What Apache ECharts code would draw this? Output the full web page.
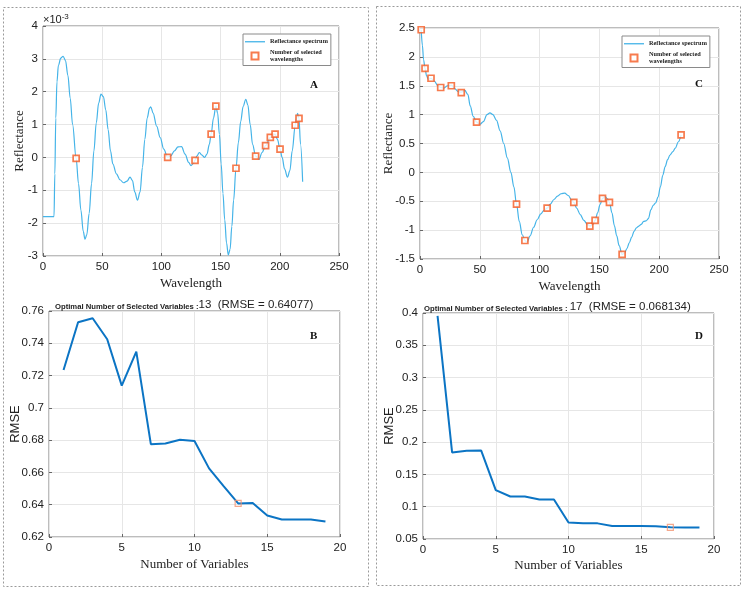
<!DOCTYPE html>
<html>
<head>
<meta charset="utf-8">
<script src="https://cdn.jsdelivr.net/npm/echarts@6/dist/echarts.min.js"></script>
<style>
html, body { margin: 0; padding: 0; background: #fff; }
#chart { width: 748px; height: 595px; }
</style>
</head>
<body>
<div id="chart"></div>
<script>
// panel A: reflectance spectrum (x10^-3) and selected wavelengths
var waveA = [0, 9.3, 10, 10.8, 11.8, 13, 15, 17, 19, 21, 23, 25, 28, 30, 32, 34, 35.5, 37, 39, 41, 43, 45, 47, 49, 51, 53, 55, 57, 59, 62, 65, 68, 71, 73.5, 75.5, 77.5, 79.8, 82, 84, 86, 88, 90, 91, 93, 96, 99, 102, 105.3, 108, 111, 114, 117, 120, 123, 125, 127, 128.4, 130, 132, 134, 136.5, 138.5, 140.5, 142, 144, 146, 147.5, 149, 150.5, 152, 153.5, 155, 156.5, 158, 159.5, 161, 163, 165, 167, 169, 171.3, 173, 175, 177, 179.6, 182.5, 185, 188, 192, 196, 198, 200.2, 202, 204, 206.5, 208.5, 210.5, 213, 215, 216.2, 217.5, 219.3];
var reflA = [-1.8, -1.8, -0.5, 1.2, 2.3, 2.8, 3.02, 3.08, 2.95, 2.5, 1.8, 1.0, -0.03, -0.8, -1.6, -2.25, -2.49, -2.35, -1.7, -0.8, 0.2, 1.05, 1.65, 1.93, 1.85, 1.45, 0.85, 0.2, -0.2, -0.5, -0.68, -0.77, -0.72, -0.6, -0.7, -1.05, -1.3, -1.05, -0.3, 0.55, 1.2, 1.5, 1.54, 1.35, 0.95, 0.6, 0.25, 0.0, 0.05, 0.2, 0.32, 0.33, 0.1, -0.15, -0.25, -0.18, -0.09, 0.05, 0.15, 0.08, 0.0, 0.1, 0.4, 0.71, 1.2, 1.56, 1.35, 0.7, -0.2, -1.1, -1.9, -2.6, -2.97, -2.8, -2.1, -1.3, -0.33, 0.45, 1.1, 1.55, 1.77, 1.6, 1.0, 0.4, 0.04, -0.06, 0.15, 0.36, 0.61, 0.71, 0.55, 0.25, 0.0, -0.35, -0.6, -0.4, 0.2, 0.98, 1.34, 1.19, 0.4, -0.74];
var selWaveA = [28, 105.3, 128.4, 142, 146, 163, 179.6, 188, 192, 196, 200.2, 213, 216.2];
var selReflA = [-0.03, 0.0, -0.09, 0.71, 1.56, -0.33, 0.04, 0.36, 0.61, 0.71, 0.25, 0.98, 1.19];

// panel C: reflectance spectrum and selected wavelengths
var waveC = [1, 2, 3, 4.2, 5.5, 7, 9.2, 12, 15, 17.3, 20, 23, 26.2, 29, 32, 34.5, 37.5, 40, 42, 44.5, 47.3, 50, 53, 56, 58.5, 61, 64, 67, 70, 73, 76, 78.5, 80.7, 83, 85.5, 87.7, 89.5, 92, 95, 98, 101, 103.5, 106.3, 109, 112, 115, 118, 121, 124, 126.5, 128.6, 131, 134, 137, 140, 142, 144.5, 146.4, 148.5, 150.5, 152.6, 154.8, 156.8, 158.4, 160.5, 162.5, 164.5, 166.5, 169, 171, 173, 175, 177, 179, 181, 183, 185, 187, 189, 191, 193, 195, 197, 199, 201, 203, 205, 207, 209, 211.5, 213.5, 216, 218.3];
var reflC = [2.47, 2.2, 1.95, 1.8, 1.67, 1.61, 1.63, 1.58, 1.5, 1.47, 1.46, 1.5, 1.51, 1.45, 1.4, 1.39, 1.42, 1.35, 1.15, 0.97, 0.87, 0.83, 0.88, 1.0, 1.03, 1.0, 0.9, 0.72, 0.5, 0.25, 0.0, -0.25, -0.55, -0.85, -1.08, -1.18, -1.21, -1.1, -0.95, -0.82, -0.72, -0.66, -0.62, -0.55, -0.47, -0.41, -0.37, -0.36, -0.4, -0.47, -0.52, -0.62, -0.73, -0.83, -0.9, -0.93, -0.9, -0.83, -0.7, -0.56, -0.45, -0.42, -0.46, -0.52, -0.7, -0.92, -1.1, -1.27, -1.42, -1.4, -1.32, -1.22, -1.12, -1.02, -0.96, -0.93, -0.9, -0.85, -0.84, -0.8, -0.65, -0.57, -0.53, -0.43, -0.25, -0.05, 0.1, 0.22, 0.3, 0.36, 0.42, 0.53, 0.65];
var selWaveC = [1, 4.2, 9.2, 17.3, 26.2, 34.5, 47.3, 80.7, 87.7, 106.3, 128.6, 142, 146.4, 152.6, 158.4, 169, 218.3];
var selReflC = [2.47, 1.8, 1.63, 1.47, 1.5, 1.38, 0.87, -0.55, -1.18, -0.62, -0.52, -0.93, -0.83, -0.45, -0.52, -1.42, 0.65];

// panels B and D: RMSE against number of variables
var nVars = [1, 2, 3, 4, 5, 6, 7, 8, 9, 10, 11, 12, 13, 14, 15, 16, 17, 18, 19];
var rmseB = [0.7235, 0.753, 0.7555, 0.7425, 0.7138, 0.7348, 0.6775, 0.6779, 0.6802, 0.6795, 0.6625, 0.6515, 0.64077, 0.641, 0.6333, 0.6308, 0.6308, 0.6309, 0.6296];
var rmseD = [0.3954, 0.184, 0.1866, 0.187, 0.1258, 0.1158, 0.1158, 0.1113, 0.1113, 0.0755, 0.0743, 0.0742, 0.0703, 0.0702, 0.0701, 0.0698, 0.068134, 0.068, 0.068];
var bestB = [13, 0.64077];
var bestD = [17, 0.068134];

function pairs(xs, ys) {
  return xs.map(function (x, i) { return [x, ys[i]]; });
}

var sans = '"Liberation Sans", Arial, sans-serif';
var serif = '"Liberation Serif", "Times New Roman", serif';
var lineBlue = '#45b4e8';
var markOrange = '#f55a22';
var rmseBlue = '#0b74c4';

function xAx(idx, max, interval, name, gap) {
  return {
    type: 'value', gridIndex: idx, min: 0, max: max, interval: interval,
    name: name, nameLocation: 'middle', nameGap: gap, nameMoveOverlap: false,
    nameTextStyle: { fontFamily: serif, fontSize: 13, color: '#222' },
    axisLine: { show: false, onZero: false },
    axisTick: { inside: true, length: 3, lineStyle: { color: '#666' } },
    axisLabel: { fontFamily: sans, fontSize: 11.5, color: '#222', margin: 5 },
    splitLine: { lineStyle: { color: '#e6e6e6' } }
  };
}
function yAx(idx, min, max, interval, name, gap, font) {
  return {
    type: 'value', gridIndex: idx, min: min, max: max, interval: interval,
    name: name, nameLocation: 'middle', nameGap: gap, nameMoveOverlap: false,
    nameTextStyle: { fontFamily: font, fontSize: 13, color: '#222' },
    axisLine: { show: false, onZero: false },
    axisTick: { inside: true, length: 3, lineStyle: { color: '#666' } },
    axisLabel: { fontFamily: sans, fontSize: 11.5, color: '#222', margin: 5 },
    splitLine: { lineStyle: { color: '#e6e6e6' } }
  };
}

var gridStyle = { show: true, borderColor: '#7a7a7a', borderWidth: 1, backgroundColor: '#fff' };

var legendBase = {
  orient: 'vertical', itemWidth: 20, itemHeight: 7, itemGap: 3,
  padding: [4, 3, 2, 2], borderColor: '#8a8a8a', borderWidth: 1, backgroundColor: '#fff',
  textStyle: { fontFamily: serif, fontSize: 6.3, fontWeight: 'bold', color: '#222', lineHeight: 7.5 },
  data: [
    { name: 'Reflectance spectrum', icon: 'path://M0,0H20V1.3H0Z', itemStyle: { color: lineBlue, borderWidth: 0 } },
    { name: 'Number of selected\nwavelengths', icon: 'path://M0,0H10V10H0Z' }
  ]
};

var titleRich = {
  a: { fontFamily: sans, fontWeight: 'bold', fontSize: 7.7, color: '#222', verticalAlign: 'bottom' },
  b: { fontFamily: sans, fontWeight: 'normal', fontSize: 11.5, color: '#222', verticalAlign: 'bottom' }
};
var letterStyle = { fontFamily: serif, fontSize: 11, fontWeight: 'bold', color: '#111' };

var chart = echarts.init(document.getElementById('chart'));
chart.setOption({
  animation: false,
  backgroundColor: '#fff',
  grid: [
    Object.assign({ left: 43, top: 26, width: 296, height: 230 }, gridStyle),
    Object.assign({ left: 49, top: 311, width: 291, height: 226 }, gridStyle),
    Object.assign({ left: 420, top: 28, width: 299, height: 231 }, gridStyle),
    Object.assign({ left: 423, top: 313, width: 291, height: 226 }, gridStyle)
  ],
  xAxis: [
    xAx(0, 250, 50, 'Wavelength', 21),
    xAx(1, 20, 5, 'Number of Variables', 21),
    xAx(2, 250, 50, 'Wavelength', 21),
    xAx(3, 20, 5, 'Number of Variables', 20)
  ],
  yAxis: [
    yAx(0, -3, 4, 1, 'Reflectance', 17, serif),
    yAx(1, 0.62, 0.76, 0.02, 'RMSE', 27, sans),
    yAx(2, -1.5, 2.5, 0.5, 'Reflectance', 25, serif),
    yAx(3, 0.05, 0.4, 0.05, 'RMSE', 27, sans)
  ],
  legend: [
    Object.assign({ left: 243, top: 34 }, legendBase),
    Object.assign({ left: 622, top: 36 }, legendBase)
  ],
  title: [
    { left: 50, top: 294, text: '{a|Optimal Number of Selected Variables :}{b|13  (RMSE = 0.64077)}', textStyle: { rich: titleRich } },
    { left: 419, top: 296, text: '{a|Optimal Number of Selected Variables : }{b|17  (RMSE = 0.068134)}', textStyle: { rich: titleRich } },
    { left: 305, top: 75, text: 'A', textStyle: letterStyle },
    { left: 305, top: 326, text: 'B', textStyle: letterStyle },
    { left: 690, top: 74, text: 'C', textStyle: letterStyle },
    { left: 690, top: 326, text: 'D', textStyle: letterStyle }
  ],
  graphic: [
    { type: 'rect', shape: { x: 3.5, y: 7.5, width: 365, height: 579 }, style: { fill: 'none', stroke: '#9a9a9a', lineWidth: 1, lineDash: [2, 2] }, z: -1 },
    { type: 'rect', shape: { x: 376.5, y: 6.5, width: 364, height: 579 }, style: { fill: 'none', stroke: '#9a9a9a', lineWidth: 1, lineDash: [2, 2] }, z: -1 },
    { type: 'text', left: 43, top: 13, style: { text: '{a|\u00d710}{b|-3}', rich: { a: { fontFamily: sans, fontSize: 11, fill: '#222' }, b: { fontFamily: sans, fontSize: 8, fill: '#222', verticalAlign: 'top', padding: [0, 0, 6, 0] } } } }
  ],
  series: [
    { name: 'Reflectance spectrum', type: 'line', xAxisIndex: 0, yAxisIndex: 0, data: pairs(waveA, reflA), symbol: 'none', smooth: 0.35, smoothMonotone: 'x', lineStyle: { color: lineBlue, width: 1.2 }, itemStyle: { color: lineBlue } },
    { name: 'Number of selected\nwavelengths', type: 'scatter', xAxisIndex: 0, yAxisIndex: 0, data: pairs(selWaveA, selReflA), symbol: 'rect', symbolSize: 6, itemStyle: { color: '#fff', borderColor: markOrange, borderWidth: 1.7 }, z: 3 },
    { name: 'Reflectance spectrum', type: 'line', xAxisIndex: 2, yAxisIndex: 2, data: pairs(waveC, reflC), symbol: 'none', smooth: 0.35, smoothMonotone: 'x', lineStyle: { color: lineBlue, width: 1.2 }, itemStyle: { color: lineBlue } },
    { name: 'Number of selected\nwavelengths', type: 'scatter', xAxisIndex: 2, yAxisIndex: 2, data: pairs(selWaveC, selReflC), symbol: 'rect', symbolSize: 6, itemStyle: { color: '#fff', borderColor: markOrange, borderWidth: 1.7 }, z: 3 },
    { name: 'rmseB', type: 'line', xAxisIndex: 1, yAxisIndex: 1, data: pairs(nVars, rmseB), symbol: 'none', lineStyle: { color: rmseBlue, width: 2 } },
    { name: 'bestB', type: 'scatter', xAxisIndex: 1, yAxisIndex: 1, data: [bestB], symbol: 'rect', symbolSize: 6, itemStyle: { color: 'rgba(255,255,255,0)', borderColor: '#f29470', borderWidth: 1.2 }, z: 3 },
    { name: 'rmseD', type: 'line', xAxisIndex: 3, yAxisIndex: 3, data: pairs(nVars, rmseD), symbol: 'none', lineStyle: { color: rmseBlue, width: 2 } },
    { name: 'bestD', type: 'scatter', xAxisIndex: 3, yAxisIndex: 3, data: [bestD], symbol: 'rect', symbolSize: 6, itemStyle: { color: 'rgba(255,255,255,0)', borderColor: '#f29470', borderWidth: 1.2 }, z: 3 }
  ]
});
</script>
</body>
</html>
